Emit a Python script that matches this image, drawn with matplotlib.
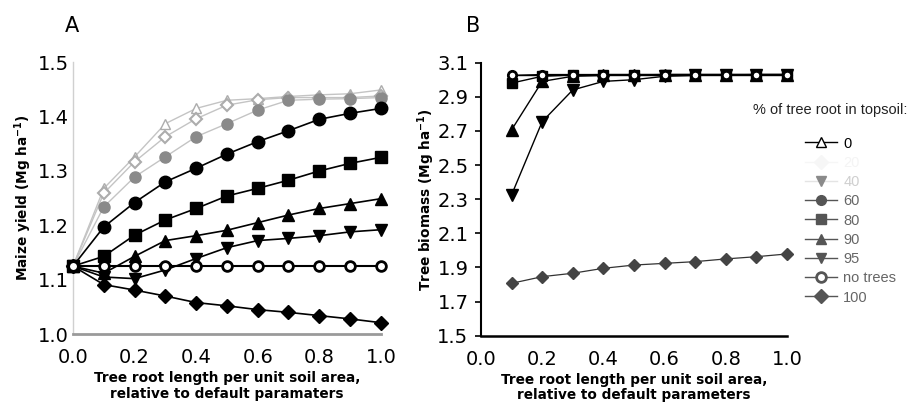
import matplotlib
matplotlib.use("Agg")
import matplotlib.pyplot as plt
from matplotlib.lines import Line2D

plt.rcParams['font.family'] = ['DejaVu Sans']

# ---------------- data ----------------
x_a = [0.0, 0.1, 0.2, 0.3, 0.4, 0.5, 0.6, 0.7, 0.8, 0.9, 1.0]
yield_0 = [1.125, 1.268, 1.326, 1.387, 1.415, 1.430, 1.433, 1.437, 1.440, 1.442, 1.449]
yield_20 = [1.125, 1.259, 1.317, 1.363, 1.396, 1.421, 1.431, 1.435, 1.435, 1.435, 1.438]
yield_40 = [1.125, 1.234, 1.289, 1.326, 1.363, 1.387, 1.412, 1.430, 1.432, 1.433, 1.435]
yield_60 = [1.125, 1.197, 1.242, 1.280, 1.305, 1.331, 1.354, 1.374, 1.395, 1.406, 1.415]
yield_80 = [1.125, 1.143, 1.182, 1.210, 1.231, 1.254, 1.268, 1.283, 1.300, 1.314, 1.325]
yield_90 = [1.125, 1.112, 1.143, 1.172, 1.181, 1.191, 1.205, 1.219, 1.231, 1.240, 1.249]
yield_95 = [1.125, 1.105, 1.102, 1.118, 1.139, 1.159, 1.172, 1.176, 1.181, 1.188, 1.192]
yield_notrees = [1.125] * 11
yield_100 = [1.125, 1.091, 1.081, 1.070, 1.058, 1.052, 1.045, 1.040, 1.034, 1.028, 1.021]

x_b = [0.1, 0.2, 0.3, 0.4, 0.5, 0.6, 0.7, 0.8, 0.9, 1.0]
bio_0 = [3.030, 3.030, 3.030, 3.030, 3.030, 3.030, 3.030, 3.030, 3.030, 3.030]
bio_60 = [3.025, 3.030, 3.030, 3.030, 3.030, 3.030, 3.030, 3.030, 3.030, 3.030]
bio_80 = [2.980, 3.020, 3.028, 3.030, 3.030, 3.030, 3.030, 3.030, 3.030, 3.030]
bio_90 = [2.706, 2.990, 3.020, 3.025, 3.028, 3.030, 3.030, 3.030, 3.030, 3.030]
bio_95 = [2.325, 2.754, 2.940, 2.990, 3.000, 3.020, 3.025, 3.028, 3.030, 3.030]
bio_100 = [1.807, 1.846, 1.866, 1.895, 1.914, 1.924, 1.934, 1.950, 1.963, 1.979]

legend_labels = ['0', '20', '40', '60', '80', '90', '95', 'no trees', '100']
yticks_a = [1.0, 1.1, 1.2, 1.3, 1.4, 1.5]
yticks_b = [1.5, 1.7, 1.9, 2.1, 2.3, 2.5, 2.7, 2.9, 3.1]
xticks = [0.0, 0.2, 0.4, 0.6, 0.8, 1.0]

# ---------------- figure ----------------
fig = plt.figure(figsize=(9.08, 4.04), dpi=100)
axA = fig.add_axes([0.0804, 0.173, 0.339, 0.673])
axB = fig.add_axes([0.5297, 0.169, 0.337, 0.676])

tickfs = 14
labfs = 9.8
narrow = ['Liberation Sans Narrow', 'Liberation Sans', 'DejaVu Sans']

# Panel A
g1, g2, g3 = '#c4c4c4', '#acacac', '#8a8a8a'
axA.plot(x_a, yield_0, color=g1, lw=1.0, marker='^', ms=7, mfc='white', mec=g2, clip_on=False, zorder=2)
axA.plot(x_a, yield_20, color=g1, lw=1.0, marker='D', ms=6, mfc='white', mec=g2, mew=1.5, clip_on=False, zorder=2)
axA.plot(x_a, yield_40, color=g1, lw=1.0, marker='o', ms=8, mfc=g3, mec=g3, clip_on=False, zorder=2)
axA.plot(x_a, yield_60, color='black', lw=1.2, marker='o', ms=9, mfc='black', mec='black', clip_on=False, zorder=3)
axA.plot(x_a, yield_80, color='black', lw=1.2, marker='s', ms=8, mfc='black', mec='black', clip_on=False, zorder=3)
axA.plot(x_a, yield_90, color='black', lw=1.2, marker='^', ms=9, mfc='black', mec='black', clip_on=False, zorder=3)
axA.plot(x_a, yield_95, color='black', lw=1.2, marker='v', ms=9, mfc='black', mec='black', clip_on=False, zorder=3)
axA.plot(x_a, yield_notrees, color='black', lw=1.5, marker='o', ms=7, mfc='white', mec='black', mew=2, clip_on=False, zorder=4)
axA.plot(x_a, yield_100, color='black', lw=1.2, marker='D', ms=7, mfc='black', mec='black', clip_on=False, zorder=3)

axA.set_xlim(0, 1.0)
axA.set_ylim(1.0, 1.5)
axA.set_yticks(yticks_a)
axA.set_yticklabels([f'{v:.1f}' for v in yticks_a])
axA.set_xticks(xticks)
axA.set_xticklabels([f'{v:.1f}' for v in xticks])
for s in ['top', 'right']:
    axA.spines[s].set_visible(False)
axA.spines['left'].set_color('#d0d0d0')
axA.spines['left'].set_linewidth(1.0)
axA.spines['bottom'].set_color('#9a9a9a')
axA.spines['bottom'].set_linewidth(2.0)
axA.tick_params(axis='y', length=0, labelsize=tickfs, pad=3)
axA.tick_params(axis='x', length=0, labelsize=tickfs, pad=10)
axA.set_ylabel('Maize yield (Mg ha$^{\\mathbf{-1}}$)', fontsize=labfs, fontweight='bold', labelpad=3)
axA.set_xlabel('Tree root length per unit soil area,\nrelative to default paramaters',
               fontsize=labfs, fontweight='bold', labelpad=3, linespacing=1.15)
fig.text(0.079, 0.935, 'A', fontsize=15, ha='center', va='center')

# Panel B
axB.plot(x_b, bio_0, color='black', lw=1.0, marker='^', ms=7, mfc='white', mec='black', clip_on=False, zorder=3)
axB.plot(x_b, bio_60, color='black', lw=1.0, marker='o', ms=7, mfc='black', mec='black', clip_on=False, zorder=3)
axB.plot(x_b, bio_80, color='black', lw=1.0, marker='s', ms=7, mfc='black', mec='black', clip_on=False, zorder=3)
axB.plot(x_b, bio_90, color='black', lw=1.0, marker='^', ms=8, mfc='black', mec='black', clip_on=False, zorder=3)
axB.plot(x_b, bio_95, color='black', lw=1.0, marker='v', ms=8, mfc='black', mec='black', clip_on=False, zorder=3)
axB.plot(x_b, bio_100, color='#333333', lw=0.9, marker='D', ms=6, mfc='#444444', mec='#444444', clip_on=False, zorder=3)
axB.plot(x_b, bio_0, color='black', lw=0, marker='o', ms=5, mfc='white', mec='black', clip_on=False, zorder=4)

axB.set_xlim(0, 1.0)
axB.set_ylim(1.5, 3.1)
axB.set_yticks(yticks_b)
axB.set_yticklabels([f'{v:.1f}' for v in yticks_b])
axB.set_xticks(xticks)
axB.set_xticklabels([f'{v:.1f}' for v in xticks])
for s in ['top', 'right']:
    axB.spines[s].set_visible(False)
axB.spines['left'].set_linewidth(1.5)
axB.spines['bottom'].set_linewidth(1.8)
axB.tick_params(axis='y', length=4, width=1.2, direction='out', labelsize=tickfs, pad=5)
axB.tick_params(axis='x', length=0, labelsize=tickfs, pad=10)
axB.set_ylabel('Tree biomass (Mg ha$^{\\mathbf{-1}}$)', fontsize=labfs, fontweight='bold', labelpad=0)
axB.set_xlabel('Tree root length per unit soil area,\nrelative to default parameters',
               fontsize=labfs, fontweight='bold', labelpad=3, linespacing=1.15)
fig.text(0.521, 0.935, 'B', fontsize=15, ha='center', va='center')

# Legend
leg_styles = [
    dict(marker='^', mfc='white', mec='black', color='black'),
    dict(marker='D', mfc='#f6f6f6', mec='#f6f6f6', color='#f6f6f6'),
    dict(marker='v', mfc='#8a8a8a', mec='#8a8a8a', color='#e4e4e4'),
    dict(marker='o', mfc='#555555', mec='#555555', color='#555555'),
    dict(marker='s', mfc='#555555', mec='#555555', color='#555555'),
    dict(marker='^', mfc='#555555', mec='#555555', color='#555555'),
    dict(marker='v', mfc='#555555', mec='#555555', color='#555555'),
    dict(marker='o', mfc='white', mec='#555555', color='#555555', mew=2),
    dict(marker='D', mfc='#555555', mec='#555555', color='#555555'),
]
handles = [Line2D([0], [1], lw=1.0, ms=7, **st) for st in leg_styles]
leg = fig.legend(handles, legend_labels, loc='upper left', bbox_to_anchor=(0.887, 0.662),
                 frameon=False, prop={'family': narrow, 'size': 10.5},
                 handlelength=2.2, handletextpad=0.4,
                 labelspacing=0.36, borderpad=0, borderaxespad=0)
text_colors = ['black', '#f4f4f4', '#cfcfcf', '#666666', '#666666', '#666666', '#666666', '#666666', '#666666']
for t, c in zip(leg.get_texts(), text_colors):
    t.set_color(c)
fig.text(0.829, 0.727, '% of tree root in topsoil:', family=narrow, fontsize=10.5,
         ha='left', va='center', color='#222222')

fig.savefig('out.png', dpi=100)
